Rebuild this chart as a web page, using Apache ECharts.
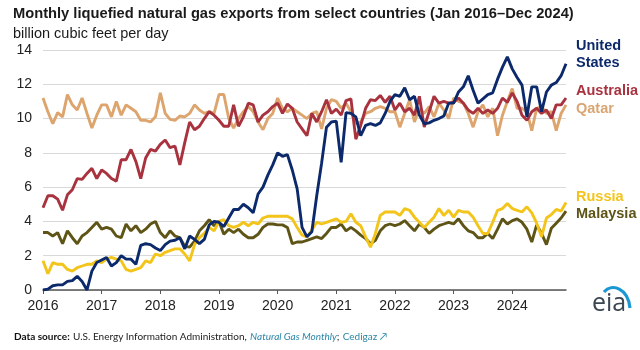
<!DOCTYPE html>
<html><head><meta charset="utf-8">
<script src="https://cdn.jsdelivr.net/npm/echarts@6/dist/echarts.min.js"></script>
<style>html,body{margin:0;padding:0;background:#fff}#c{width:640px;height:350px}</style>
</head><body><div id="c"></div>
<script>
var years = ['2016','2017','2018','2019','2020','2021','2022','2023','2024'];
var yTicks = [0, 2, 4, 6, 8, 10, 12, 14];

var unitedStates = [
0, 0.05, 0.25, 0.3, 0.3, 0.5, 0.55, 0.8, 0.5, 0.0, 1.1, 1.6,
1.75, 1.9, 1.4, 1.6, 2.0, 1.8, 1.8, 1.5, 2.6, 2.7, 2.65, 2.45,
2.3, 2.65, 2.85, 2.9, 3.05, 2.4, 3.15, 2.95, 2.7, 2.95, 3.8, 4.0,
3.95, 3.7, 4.2, 4.7, 4.7, 5.0, 4.8, 4.5, 5.6, 6.0, 6.7, 7.3,
8.0, 7.8, 7.9, 7.0, 5.9, 3.65, 3.1, 3.4, 5.5, 7.4, 9.5, 9.8,
9.85, 7.45, 10.35, 10.3, 10.1, 9.0, 9.6, 9.7, 9.6, 9.75, 10.3, 11.0,
11.4, 11.3, 11.8, 11.1, 11.3, 10.2, 9.7, 9.75, 9.9, 10.0, 10.15, 10.9,
10.9, 11.55, 11.85, 12.5, 11.65, 10.9, 11.15, 11.4, 11.5, 12.3, 13.0, 13.6,
12.9, 12.4, 11.95, 10.1, 11.85, 11.85, 10.4, 11.55, 11.95, 12.1, 12.5, 13.2];

var australia = [
4.8, 5.5, 5.5, 5.3, 4.65, 5.55, 5.85, 6.5, 6.45, 6.8, 7.1, 6.5,
7.0, 6.8, 6.5, 6.35, 7.6, 7.6, 8.2, 7.5, 6.5, 7.7, 8.2, 8.1,
8.5, 8.75, 8.3, 8.4, 7.3, 8.6, 9.8, 9.35, 9.55, 10.0, 10.4, 10.2,
9.9, 9.55, 9.55, 10.8, 9.55, 10.1, 10.9, 10.8, 9.8, 10.2, 10.4, 10.7,
10.9, 10.3, 10.85, 10.6, 9.8, 9.4, 9.0, 10.3, 9.8, 10.4, 11.1, 10.3,
10.55, 10.2, 11.05, 11.15, 8.8, 9.6, 10.6, 11.1, 11.05, 11.35, 10.95, 11.3,
10.5, 10.9, 10.4, 10.6, 10.2, 11.3, 9.5, 10.4, 11.3, 10.9, 11.0, 10.9,
10.95, 11.2, 10.9, 10.5, 10.3, 10.6, 10.3, 10.5, 10.3, 10.6, 11.2, 10.95,
11.5, 11.0, 10.2, 9.9, 10.4, 10.6, 10.3, 10.5, 10.0, 10.8, 10.8, 11.2];

var qatar = [
11.2, 10.4, 9.7, 10.35, 10.1, 11.4, 10.8, 10.5, 11.2, 10.3, 9.45, 10.2,
10.8, 10.8, 10.1, 11.0, 10.2, 10.8, 10.6, 10.4, 9.9, 9.9, 9.8, 10.1,
11.5, 10.3, 9.95, 9.9, 10.15, 10.1, 10.3, 10.8, 10.5, 10.3, 10.4, 10.3,
11.4, 11.4, 10.0, 9.45, 10.0, 10.4, 10.7, 10.4, 9.8, 9.35, 10.0, 10.3,
11.2, 10.6, 10.4, 10.6, 10.4, 10.2, 10.0, 10.3, 10.4, 9.4, 10.6, 11.1,
11.0, 10.6, 10.9, 10.4, 9.7, 9.8, 10.3, 10.4, 10.6, 10.7, 10.6, 10.4,
10.4, 9.5, 10.3, 11.1, 9.8, 10.6, 10.3, 10.7, 10.1, 10.9, 10.5, 10.0,
11.2, 11.0, 10.9, 10.3, 9.5, 10.4, 10.8, 10.1, 10.6, 9.0, 10.2, 11.0,
11.75, 10.6, 10.6, 10.4, 9.3, 10.6, 10.7, 10.3, 10.4, 9.3, 10.3, 10.8];

var russia = [
1.7, 0.95, 1.6, 1.5, 1.5, 1.2, 1.1, 1.3, 1.4, 1.5, 1.5, 1.7,
1.6, 1.8, 1.9, 1.8, 1.7, 1.2, 1.1, 1.2, 1.3, 1.7, 1.6, 2.1,
2.0, 2.2, 2.3, 2.4, 2.4, 2.1, 1.7, 2.65, 3.05, 3.3, 3.65, 3.45,
4.0, 4.1, 3.75, 3.65, 3.75, 3.95, 3.75, 3.95, 3.85, 4.2, 4.3, 4.3,
4.3, 4.3, 4.3, 4.15, 3.65, 3.2, 3.1, 3.5, 3.95, 3.85, 3.95, 4.05,
4.15, 3.95, 4.0, 4.45, 3.95, 3.75, 3.1, 2.5, 3.3, 4.35, 4.55, 4.55,
4.55, 4.35, 4.75, 4.65, 4.25, 3.95, 3.65, 3.95, 4.25, 4.75, 4.35, 4.65,
4.25, 4.65, 4.55, 4.55, 4.25, 3.75, 3.3, 3.3, 3.95, 4.65, 4.75, 5.05,
4.75, 4.65, 4.55, 4.85, 4.5, 3.9, 3.1, 4.2, 4.4, 4.7, 4.6, 5.1];

var malaysia = [
3.35, 3.35, 3.15, 3.35, 2.7, 3.45, 3.05, 2.7, 3.15, 3.35, 3.65, 3.95,
3.55, 3.65, 3.55, 3.15, 3.05, 3.85, 3.45, 3.75, 3.35, 3.55, 3.85, 4.0,
3.35, 3.05, 3.45, 3.15, 3.05, 2.55, 2.5, 2.85, 3.45, 3.75, 4.1, 3.75,
4.0, 3.25, 3.55, 3.35, 3.55, 3.25, 3.05, 3.05, 3.25, 3.65, 3.85, 3.85,
3.8, 3.8, 3.65, 2.7, 2.8, 2.8, 2.9, 3.0, 3.1, 3.0, 3.3, 3.65,
3.65, 3.85, 3.45, 3.65, 3.45, 3.2, 3.0, 2.7, 2.9, 3.45, 3.75, 3.85,
3.75, 3.85, 4.05, 3.75, 3.45, 3.85, 3.65, 3.3, 3.55, 3.75, 3.85, 3.95,
3.85, 4.15, 3.75, 3.45, 3.35, 3.05, 3.05, 3.3, 3.0, 3.55, 4.15, 3.85,
4.05, 4.15, 3.95, 3.55, 2.8, 3.8, 3.3, 2.65, 3.6, 3.9, 4.2, 4.6];

var months = [];
years.forEach(function (y) {
  for (var m = 1; m <= 12; m++) months.push(y + '-' + (m < 10 ? '0' + m : m));
});

var colors = {us: '#0c2a6b', au: '#a8323e', qa: '#dda56d', ru: '#f3c419', my: '#5e5416'};
var F = '"Liberation Sans", Arial, sans-serif';

function line(name, data, color) {
  return {name: name, type: 'line', data: data, symbol: 'none', showSymbol: false,
    lineStyle: {color: color, width: 2.9}, itemStyle: {color: color}, animation: false};
}

var chart = echarts.init(document.getElementById('c'), null, {renderer: 'canvas'});
chart.setOption({
  animation: false,
  grid: {left: 43, right: 74, top: 50, bottom: 60, containLabel: false},
  xAxis: {
    type: 'category', data: months, boundaryGap: false,
    axisLine: {show: true, lineStyle: {color: '#555', width: 1.5}},
    axisTick: {show: true, length: 4, interval: function (i) { return i % 12 === 0; },
      lineStyle: {color: '#555', width: 1}},
    axisLabel: {interval: function (i) { return i % 12 === 0; },
      formatter: function (v) { return v.slice(0, 4); },
      fontFamily: F, fontSize: 14, color: '#222', margin: 9},
    splitLine: {show: false}
  },
  yAxis: {
    type: 'value', min: yTicks[0], max: yTicks[yTicks.length - 1], interval: 2,
    axisLine: {show: false}, axisTick: {show: false},
    axisLabel: {fontFamily: F, fontSize: 14, color: '#222', margin: 11},
    splitLine: {lineStyle: {color: '#d9d9d9', width: 1}}
  },
  series: [
    line('Qatar', qatar, colors.qa),
    line('Australia', australia, colors.au),
    line('Malaysia', malaysia, colors.my),
    line('Russia', russia, colors.ru),
    line('United States', unitedStates, colors.us)
  ],
  graphic: [
    {type: 'text', left: 13, top: 6, style: {text: 'Monthly liquefied natural gas exports from select countries (Jan 2016\u2013Dec 2024)',
      font: 'bold 14.7px ' + F, fill: '#1a1a1a'}},
    {type: 'text', left: 13, top: 26, style: {text: 'billion cubic feet per day', font: '14.5px ' + F, fill: '#1a1a1a'}},
    {type: 'text', x: 576, y: 45.5, style: {text: 'United', font: 'bold 14.5px ' + F, fill: colors.us, verticalAlign: 'middle'}},
    {type: 'text', x: 576, y: 63, style: {text: 'States', font: 'bold 14.5px ' + F, fill: colors.us, verticalAlign: 'middle'}},
    {type: 'text', x: 576, y: 91, style: {text: 'Australia', font: 'bold 14.5px ' + F, fill: colors.au, verticalAlign: 'middle'}},
    {type: 'text', x: 576, y: 109, style: {text: 'Qatar', font: 'bold 14.5px ' + F, fill: '#d9a673', verticalAlign: 'middle'}},
    {type: 'text', x: 576, y: 196.5, style: {text: 'Russia', font: 'bold 14.5px ' + F, fill: colors.ru, verticalAlign: 'middle'}},
    {type: 'text', x: 576, y: 214, style: {text: 'Malaysia', font: 'bold 14.5px ' + F, fill: colors.my, verticalAlign: 'middle'}},
    {type: 'text', x: 14, y: 337, style: {
      text: '{b|Data source:} {n|U.S. Energy Information Administration,} {l|Natural Gas Monthly}{n|;} {c|Cedigaz \u2197}',
      verticalAlign: 'middle',
      rich: {
        b: {font: 'bold 10px Lato, sans-serif', fill: '#111'},
        n: {font: '10px Lato, sans-serif', fill: '#222'},
        l: {font: 'italic 10px Lato, sans-serif', fill: '#2c86a8'},
        c: {font: '10px Lato, sans-serif', fill: '#2c86a8'}
      }}},
    {type: 'text', x: 592, y: 304, style: {text: 'eia', font: '25px "Open Sans", sans-serif', fill: '#3b4650', verticalAlign: 'middle'}},
    {type: 'bezierCurve', shape: {x1: 604, y1: 292, x2: 630, y2: 308, cpx1: 612, cpy1: 283, cpx2: 628, cpy2: 288},
      style: {stroke: '#1b97d3', lineWidth: 3.2, fill: null}}
  ]
});
</script>
</body></html>
